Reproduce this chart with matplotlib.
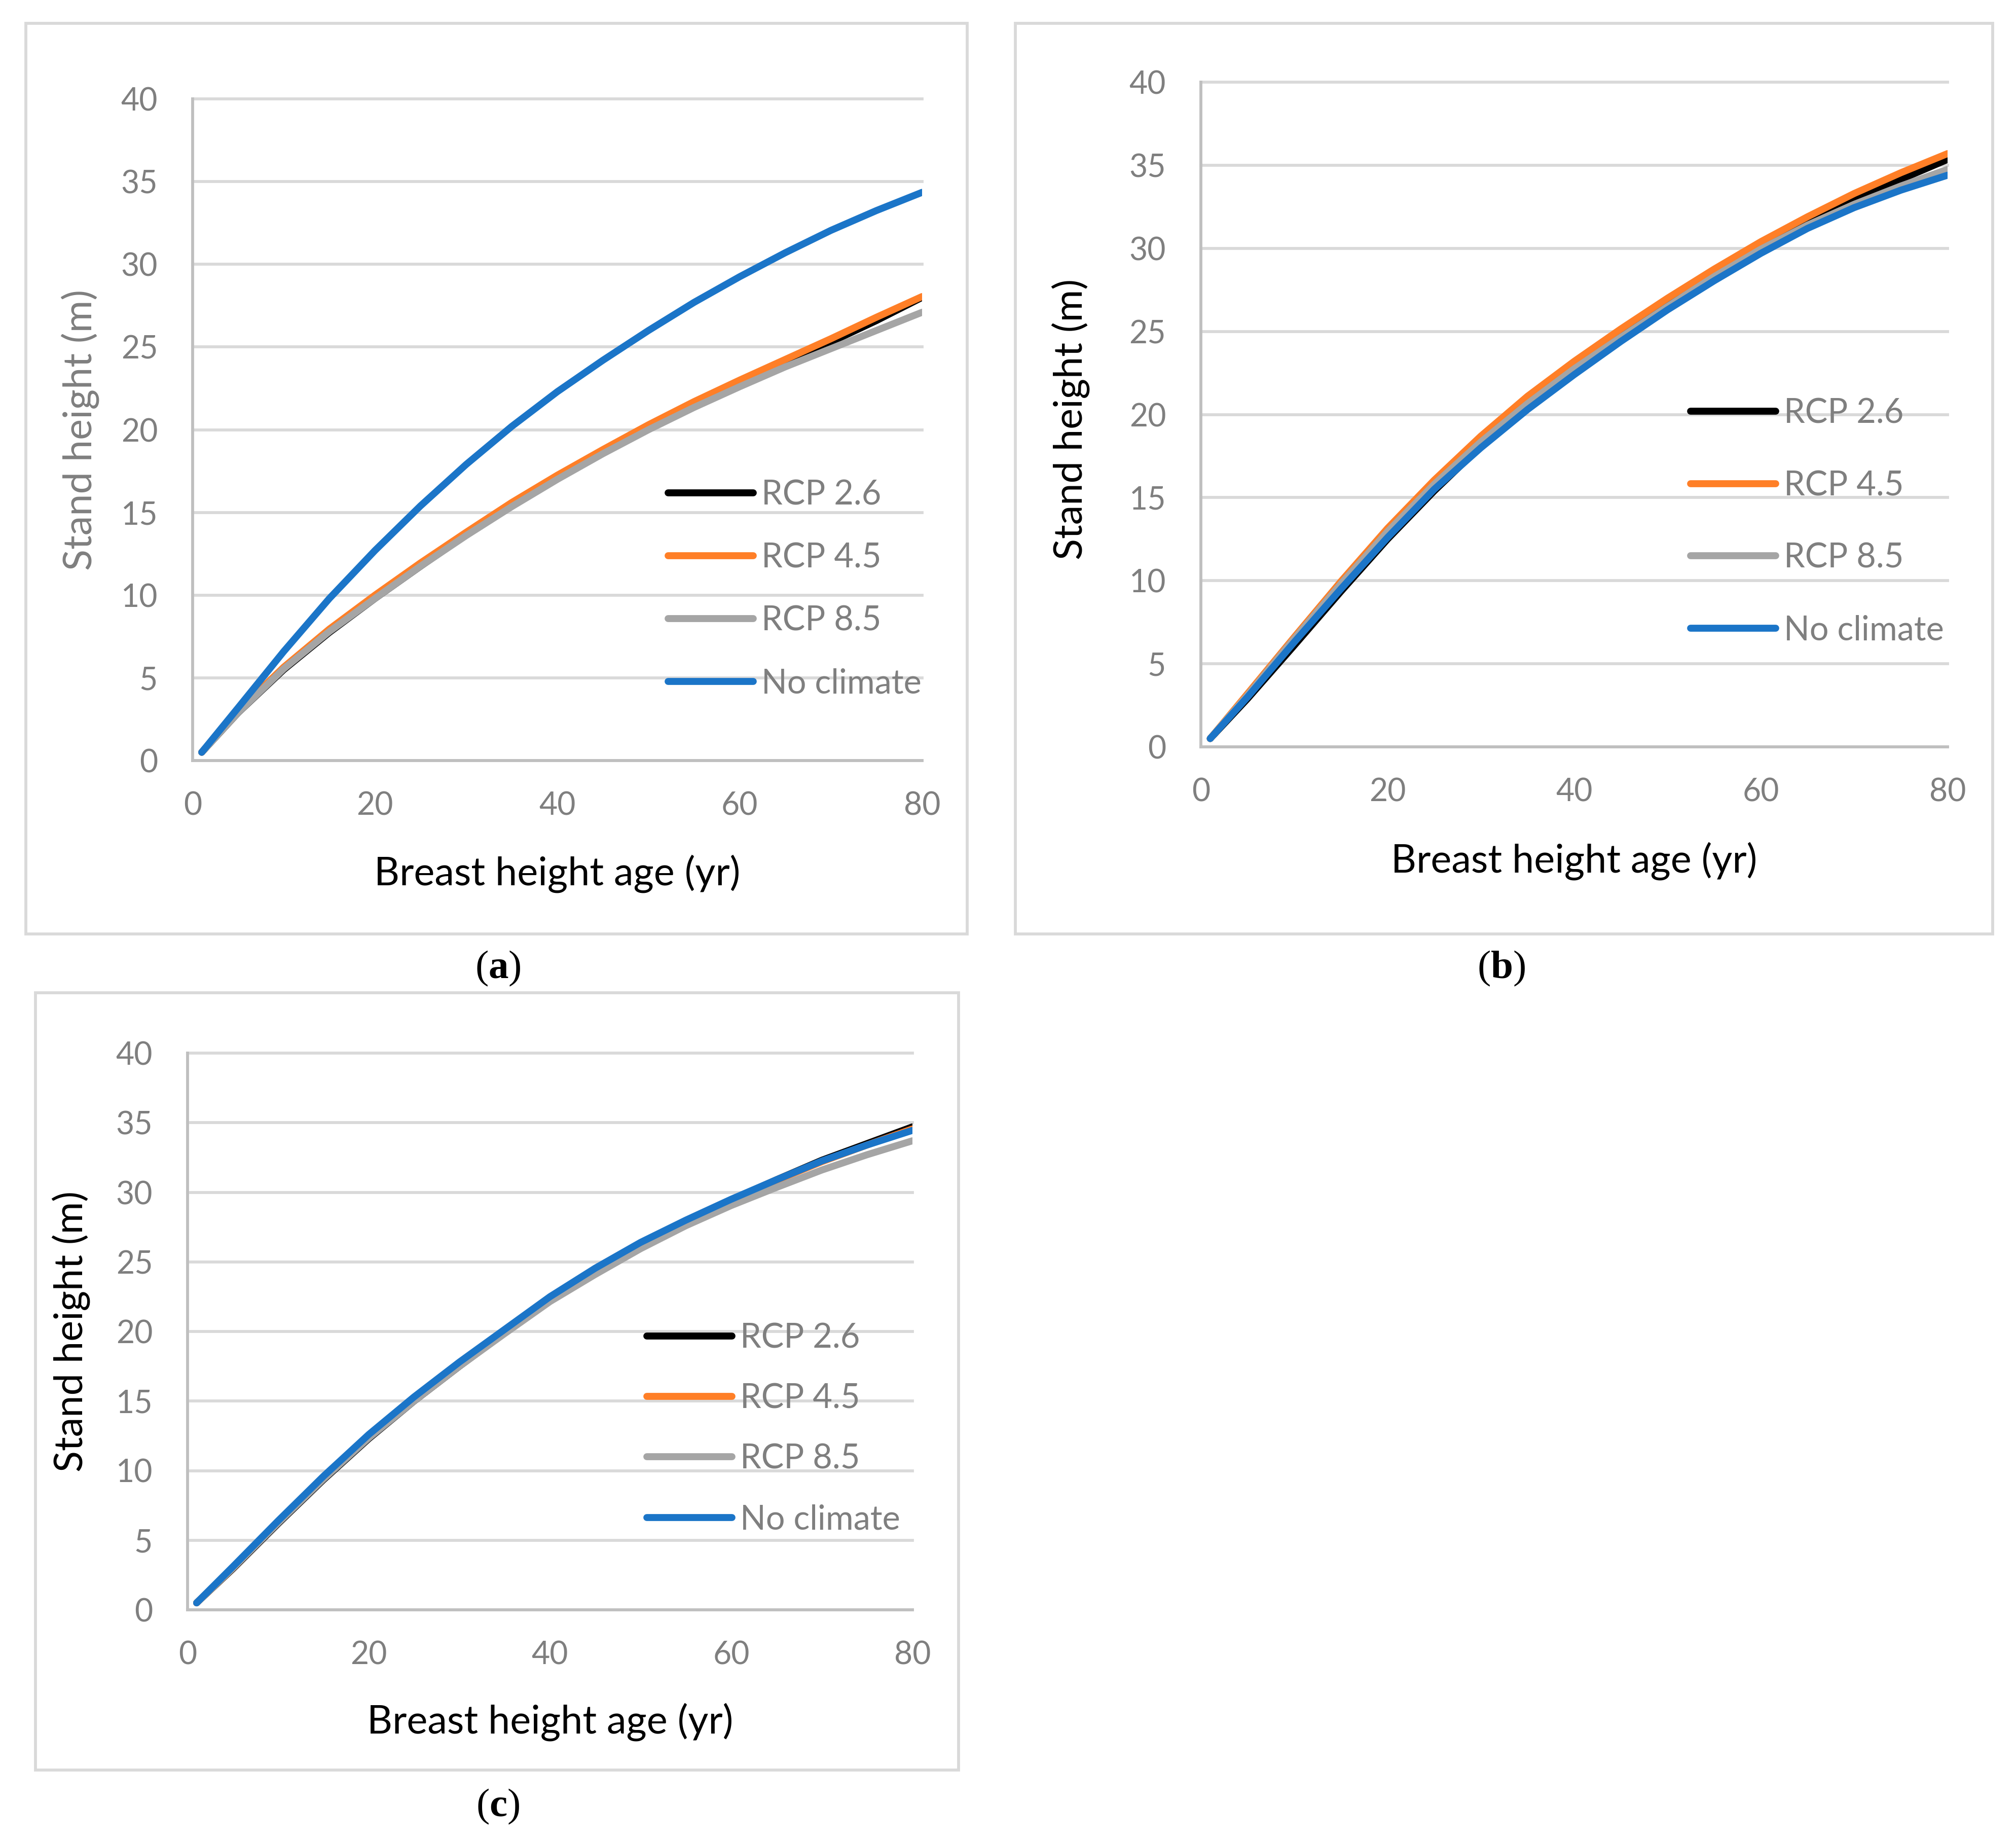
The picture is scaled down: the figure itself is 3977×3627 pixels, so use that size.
"""Stand height growth curves under RCP scenarios, three panels (a)-(c)."""

import matplotlib

matplotlib.use("Agg")
import matplotlib.pyplot as plt
from matplotlib.patches import Rectangle

plt.rcParams["font.family"] = ["Lato", "DejaVu Sans"]
plt.rcParams["mathtext.fontset"] = "custom"
plt.rcParams["mathtext.rm"] = "Liberation Serif"
plt.rcParams["mathtext.bf"] = "Liberation Serif:bold"

# breast height age (yr)
AGE = [1, 5, 10, 15, 20, 25, 30, 35, 40, 45, 50, 55, 60, 65, 70, 75, 80]

# panel (a)
A_RCP26 = [0.5, 2.9, 5.5, 7.75, 9.8, 11.75, 13.65, 15.45, 17.1, 18.65, 20.15, 21.5, 22.8, 24.05, 25.3, 26.6, 28.0]
A_RCP45 = [0.5, 3.0, 5.65, 7.95, 10.0, 11.95, 13.8, 15.6, 17.25, 18.8, 20.3, 21.7, 23.0, 24.25, 25.5, 26.8, 28.05]
A_RCP85 = [0.5, 2.9, 5.55, 7.8, 9.8, 11.75, 13.6, 15.35, 17.0, 18.55, 20.0, 21.35, 22.6, 23.8, 24.9, 26.0, 27.1]
A_NOCLIM = [0.5, 3.2, 6.6, 9.8, 12.7, 15.4, 17.9, 20.2, 22.3, 24.2, 26.0, 27.7, 29.25, 30.7, 32.05, 33.25, 34.35]

# panel (b)
B_RCP26 = [0.5, 2.9, 6.1, 9.35, 12.5, 15.4, 18.1, 20.6, 22.75, 24.75, 26.65, 28.4, 30.0, 31.5, 32.9, 34.15, 35.35]
B_RCP45 = [0.5, 3.2, 6.6, 9.95, 13.15, 16.05, 18.7, 21.1, 23.2, 25.15, 27.0, 28.75, 30.4, 31.9, 33.3, 34.55, 35.7]
B_RCP85 = [0.5, 3.1, 6.5, 9.8, 12.95, 15.8, 18.35, 20.65, 22.75, 24.65, 26.5, 28.3, 29.95, 31.4, 32.65, 33.75, 34.75]
B_NOCLIM = [0.5, 3.0, 6.3, 9.5, 12.6, 15.5, 18.0, 20.3, 22.4, 24.4, 26.3, 28.05, 29.7, 31.2, 32.45, 33.5, 34.4]

# panel (c)
C_RCP26 = [0.5, 2.95, 6.2, 9.35, 12.3, 15.0, 17.5, 19.9, 22.2, 24.3, 26.2, 27.9, 29.45, 30.9, 32.3, 33.5, 34.7]
C_RCP45 = [0.5, 3.0, 6.3, 9.45, 12.4, 15.1, 17.6, 20.0, 22.3, 24.35, 26.25, 27.95, 29.45, 30.85, 32.2, 33.4, 34.55]
C_RCP85 = [0.5, 3.0, 6.25, 9.4, 12.35, 15.0, 17.5, 19.85, 22.15, 24.1, 25.95, 27.6, 29.05, 30.35, 31.6, 32.7, 33.7]
C_NOCLIM = [0.5, 3.1, 6.4, 9.6, 12.6, 15.3, 17.8, 20.15, 22.5, 24.55, 26.4, 28.0, 29.5, 30.9, 32.25, 33.4, 34.45]

SERIES_NAMES = ["RCP 2.6", "RCP 4.5", "RCP 8.5", "No climate"]
SERIES_COLORS = ["#000000", "#FF7F27", "#A5A5A5", "#1B75C8"]
X_TICKS = [0, 20, 40, 60, 80]
Y_TICKS = [0, 5, 10, 15, 20, 25, 30, 35, 40]
X_LABEL = "Breast height age (yr)"
Y_LABEL = "Stand height (m)"

W, H = 3977, 3627
GRAY_TEXT = "#7F7F7F"
GRID = "#D9D9D9"
LEG_SIZE = 16


def fx(px):
    return px / W


def fy(py):
    return 1 - py / H


def draw_panel(fig, box, series, ylabel_color, ylabel_xy, xlabel_xy, leg_anchor, leg_spacing):
    left, top, right, bottom = box
    ax = fig.add_axes([fx(left), fy(bottom), fx(right - left), (bottom - top) / H])
    for values, name, color in zip(series, SERIES_NAMES, SERIES_COLORS):
        ax.plot(AGE, values, color=color, lw=3.3, label=name, solid_capstyle="round")
    ax.set_xlim(0, 80)
    ax.set_ylim(0, 40)
    ax.set_xticks(X_TICKS)
    ax.set_yticks(Y_TICKS)
    ax.tick_params(length=0, labelsize=15, labelcolor=GRAY_TEXT)
    ax.tick_params(axis="y", pad=16.5)
    ax.tick_params(axis="x", pad=14.5)
    ax.yaxis.grid(True, color=GRID, lw=1.4)
    for gl in ax.get_ygridlines():
        gl.set_clip_on(False)
    ax.set_axisbelow(True)
    for side in ["top", "right"]:
        ax.spines[side].set_visible(False)
    for side in ["left", "bottom"]:
        ax.spines[side].set_color("#BFBFBF")
        ax.spines[side].set_linewidth(1.4)
    ax.set_ylabel(Y_LABEL, fontsize=18.6, color=ylabel_color)
    ax.yaxis.set_label_coords(*ylabel_xy)
    ax.set_xlabel(X_LABEL, fontsize=18.6, color="black")
    ax.xaxis.set_label_coords(*xlabel_xy)
    ax.legend(
        loc="center left",
        bbox_to_anchor=leg_anchor,
        frameon=False,
        fontsize=LEG_SIZE,
        labelcolor=GRAY_TEXT,
        handlelength=2.52,
        handletextpad=0.24,
        labelspacing=leg_spacing,
        borderpad=0,
        borderaxespad=0,
    )
    return ax


def frame(fig, x0, y0, x1, y1):
    fig.add_artist(
        Rectangle(
            (fx(x0), fy(y1)),
            fx(x1 - x0),
            (y1 - y0) / H,
            transform=fig.transFigure,
            fill=False,
            edgecolor=GRID,
            lw=1.4,
        )
    )


def main():
    fig = plt.figure(figsize=(W / 300, H / 300), dpi=300)

    frame(fig, 51, 46, 1908, 1842)
    frame(fig, 2003, 46, 3931, 1842)
    frame(fig, 70, 1958, 1891, 3491)

    draw_panel(
        fig, (380, 195, 1819, 1500),
        [A_RCP26, A_RCP45, A_RCP85, A_NOCLIM],
        GRAY_TEXT, (-0.128, 0.5), (0.5, -0.142), (0.6518, 0.259), 0.93,
    )
    draw_panel(
        fig, (2369, 162, 3842, 1473),
        [B_RCP26, B_RCP45, B_RCP85, B_NOCLIM],
        "black", (-0.1487, 0.493), (0.5, -0.143), (0.6558, 0.3383), 1.21,
    )
    draw_panel(
        fig, (370, 2077, 1800, 3175),
        [C_RCP26, C_RCP45, C_RCP85, C_NOCLIM],
        "black", (-0.134, 0.5), (0.5, -0.167), (0.6336, 0.3251), 0.86,
    )

    for label, x, y in [("a", 982, 1910), ("b", 2962, 1910), ("c", 982, 3563)]:
        fig.text(fx(x), fy(y), r"($\mathbf{%s}$)" % label, ha="center", va="center",
                 fontsize=19, family="Liberation Serif")

    fig.savefig("out.png", dpi=300, facecolor="white")


if __name__ == "__main__":
    main()
